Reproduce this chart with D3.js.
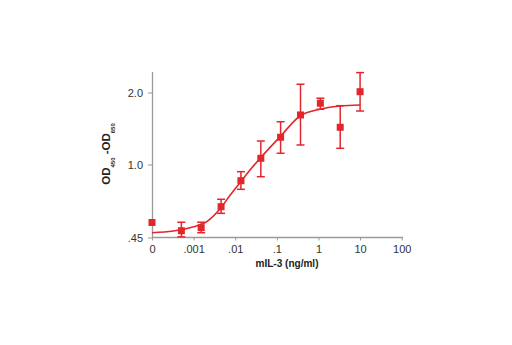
<!DOCTYPE html>
<html>
<head>
<meta charset="utf-8">
<script src="https://cdn.jsdelivr.net/npm/d3@7"></script>
<style>
  html, body { margin: 0; padding: 0; background: #fff; }
  svg { display: block; }
  .tick text { font-family: "Liberation Sans", Arial, sans-serif; font-size: 11px; fill: #333; }
  .lbl { font-family: "Liberation Sans", Arial, sans-serif; font-weight: bold; fill: #222; }
</style>
</head>
<body>
<script>
// ---- data ----
const xTickValues = [0.0001, 0.001, 0.01, 0.1, 1, 10, 100];
const xTickLabels = ["0", ".001", ".01", ".1", "1", "10", "100"];
const yTickValues = [0.45, 1.0, 2.0];
const yTickLabels = [".45", "1.0", "2.0"];

// concentrations (ng/ml); the "0" sample is plotted at the axis origin (1e-4)
const conc   = [0.0001, 0.000508, 0.00152, 0.00457, 0.0137, 0.0412, 0.123, 0.37, 1.11, 3.33, 10];
const od     = [0.563, 0.501, 0.524, 0.682, 0.878, 1.086, 1.378, 1.688, 1.851, 1.517, 2.011];
const errHi  = [null, 0.565, 0.565, 0.738, 0.946, 1.326, 1.594, 2.114, 1.921, 1.817, 2.275];
const errLo  = [null, 0.455, 0.486, 0.632, 0.813, 0.908, 1.156, 1.271, 1.767, 1.225, 1.743];

// fitted curve
const fitConc = [0.0001, 0.000325, 0.00082, 0.00207, 0.00473, 0.0075, 0.013, 0.0227, 0.0397, 0.1196, 0.36, 1.08, 3.25, 10];
const fitOd   = [0.486, 0.499, 0.524, 0.569, 0.682, 0.768, 0.863, 0.959, 1.086, 1.385, 1.674, 1.767, 1.813, 1.826];

// ---- drawing ----
const W = 512, H = 345;
const red = "#e3262c";
const svg = d3.select("body").append("svg").attr("width", W).attr("height", H);

const x = d3.scaleLog().domain([0.0001, 100]).range([152, 401.7]);
// broken y axis: lower segment compressed differently than upper
const y = d3.scaleLinear().domain([0.45, 1.0, 2.0, 2.29]).range([237.5, 164.5, 92.5, 71.5]);

// axes
const xAxis = d3.axisBottom(x).tickValues(xTickValues)
  .tickFormat((d, i) => xTickLabels[i]).tickSizeInner(3).tickSizeOuter(0).tickPadding(5);
const gx = svg.append("g").attr("transform", "translate(0,237.5)").call(xAxis);
gx.select(".domain").attr("d", "M152,0H403");

const yAxis = d3.axisLeft(y).tickValues(yTickValues)
  .tickFormat((d, i) => yTickLabels[i]).tickSizeInner(4).tickSizeOuter(0).tickPadding(5);
const gy = svg.append("g").attr("transform", "translate(152,0)").call(yAxis);

svg.selectAll(".domain").attr("stroke", "#9a9a9a").attr("stroke-width", 1.3);
svg.selectAll(".tick line").attr("stroke", "#9a9a9a").attr("stroke-width", 1);

// axis titles
svg.append("text").attr("class", "lbl")
  .attr("x", 287).attr("y", 267).attr("text-anchor", "middle")
  .attr("textLength", 63).attr("lengthAdjust", "spacingAndGlyphs")
  .style("font-size", "11.5px").text("mIL-3 (ng/ml)");

const yl = svg.append("text").attr("class", "lbl")
  .attr("transform", "translate(110,154) rotate(-90)")
  .attr("text-anchor", "middle").style("font-size", "11.5px");
yl.append("tspan").text("OD");
yl.append("tspan").attr("dy", 5).style("font-size", "6px").text("450");
yl.append("tspan").attr("dy", -5).text(" -OD");
yl.append("tspan").attr("dy", 5).style("font-size", "6px").text("650");

// fit curve
const line = d3.line().x(d => x(d[0])).y(d => y(d[1])).curve(d3.curveMonotoneX);
svg.append("path")
  .datum(fitConc.map((c, i) => [c, fitOd[i]]))
  .attr("d", line).attr("fill", "none").attr("stroke", red).attr("stroke-width", 1.6);

// error bars
const eb = svg.append("g").attr("stroke", red).attr("stroke-width", 1.5);
conc.forEach((c, i) => {
  if (errHi[i] == null) return;
  const cx = x(c);
  eb.append("line").attr("x1", cx).attr("x2", cx).attr("y1", y(errHi[i])).attr("y2", y(errLo[i]));
  eb.append("line").attr("x1", cx - 4).attr("x2", cx + 4).attr("y1", y(errHi[i])).attr("y2", y(errHi[i]));
  eb.append("line").attr("x1", cx - 4).attr("x2", cx + 4).attr("y1", y(errLo[i])).attr("y2", y(errLo[i]));
});

// markers
const s = 7;
svg.append("g").selectAll("rect").data(conc).join("rect")
  .attr("x", d => x(d) - s / 2)
  .attr("y", (d, i) => y(od[i]) - s / 2)
  .attr("width", s).attr("height", s).attr("fill", red);
</script>
</body>
</html>
